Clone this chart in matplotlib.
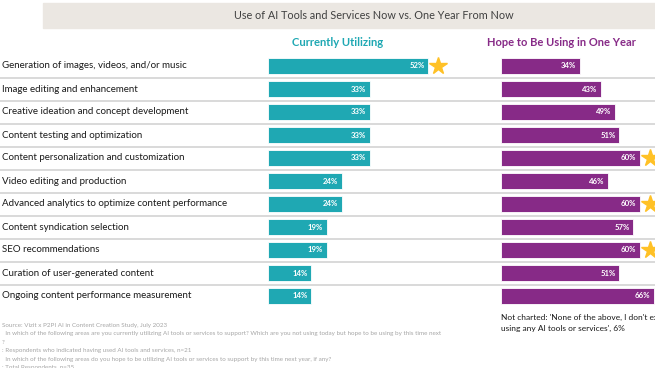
import matplotlib.pyplot as plt
from matplotlib.patches import Rectangle

plt.rcParams['font.family'] = ['Lato', 'DejaVu Sans']

categories = [
    'Generation of images, videos, and/or music',
    'Image editing and enhancement',
    'Creative ideation and concept development',
    'Content testing and optimization',
    'Content personalization and customization',
    'Video editing and production',
    'Advanced analytics to optimize content performance',
    'Content syndication selection',
    'SEO recommendations',
    'Curation of user-generated content',
    'Ongoing content performance measurement',
]
current = [52, 33, 33, 33, 33, 24, 24, 19, 19, 14, 14]
hope = [34, 43, 49, 51, 60, 46, 60, 57, 60, 51, 66]
current_star = [0]
hope_star = [4, 6, 8]

title = 'Use of AI Tools and Services Now vs. One Year From Now'
footnotes = [
    'Source: Vizit x P2PI AI in Content Creation Study, July 2023',
    '  In which of the following areas are you currently utilizing AI tools or services to support? '
    'Which are you not using today but hope to be using by this time next',
    '?',
    ': Respondents who indicated having used AI tools and services, n=21',
    '  In which of the following areas do you hope to be utilizing AI tools or services to support by this time next year, if any?',
    ': Total Respondents, n=35',
]
note = "Not charted: 'None of the above, I don't expect to be\nusing any AI tools or services', 6%"

teal = '#1FA8B3'
purple = '#872A87'
gold = '#FFC126'
sep_color = '#D9D9D9'

W, H = 655, 368
fig = plt.figure(figsize=(W / 100, H / 100), dpi=100)


def fx(px):
    return px / W


def fy(py):
    return 1 - py / H


n = len(categories)
row0, pitch = 66, 23
top_px = row0 - pitch / 2
bot_px = row0 + pitch * (n - 1) + pitch / 2
ax_b, ax_h = fy(bot_px), (bot_px - top_px) / H

# title band
fig.patches.append(Rectangle((fx(43), fy(28)), 1 - fx(43), (28 - 3) / H,
                             transform=fig.transFigure, color='#EBE7E2', zorder=0))
fig.text(fx(374), fy(15.5), title, ha='center', va='center', fontsize=7.8, color='#404040')
fig.text(fx(338), fy(42), 'Currently Utilizing', ha='center', va='center',
         fontsize=8.1, color=teal, fontweight='bold')
fig.text(fx(561), fy(42), 'Hope to Be Using in One Year', ha='center', va='center',
         fontsize=8.0, color=purple, fontweight='bold')

# background axes for separators and category labels
bg = fig.add_axes([0, ax_b, 1, ax_h])
bg.set_xlim(0, 1)
bg.set_ylim(n - 0.5, -0.5)
bg.axis('off')
for i in range(n - 1):
    bg.axhline(i + 0.5, color=sep_color, lw=1.4)
for i, c in enumerate(categories):
    bg.text(fx(2), i, c, ha='left', va='center', fontsize=7.0, color='#1a1a1a')

ypos = list(range(n))
bar_h = 16 / pitch

# left panel: 1% ~ 3.08 px
l0, l_scale = 268, 3.08
axl = fig.add_axes([fx(l0), ax_b, 60 * l_scale / W, ax_h])
axl.barh(ypos, current, height=bar_h, color=teal, edgecolor='white', lw=0.6)
axl.set_xlim(0, 60)
axl.set_ylim(n - 0.5, -0.5)
axl.axis('off')
for i, v in enumerate(current):
    axl.text(v - 1.2, i, f'{v}%', ha='right', va='center', fontsize=5.6,
             color='white', fontweight='bold')
for i in current_star:
    axl.plot(current[i] + 3.3, i, marker='*', ms=13, color=gold, clip_on=False)

# right panel: 1% ~ 2.32 px
r0, r_scale = 501, 2.32
axr = fig.add_axes([fx(r0), ax_b, 70 * r_scale / W, ax_h])
axr.barh(ypos, hope, height=bar_h, color=purple, edgecolor='white', lw=0.6)
axr.set_xlim(0, 70)
axr.set_ylim(n - 0.5, -0.5)
axr.axis('off')
for i, v in enumerate(hope):
    axr.text(v - 1.6, i, f'{v}%', ha='right', va='center', fontsize=5.6,
             color='white', fontweight='bold')
for i in hope_star:
    axr.plot(hope[i] + 4.4, i, marker='*', ms=13, color=gold, clip_on=False)

fig.text(fx(501), fy(323), note, ha='left', va='center', fontsize=6.0,
         color='#1a1a1a', linespacing=1.55)

for k, line in enumerate(footnotes):
    fig.text(fx(2), fy(325 + 8.5 * k), line, ha='left', va='center',
             fontsize=4.5, color='#A6A6A6')

fig.savefig('out.png', dpi=100)
